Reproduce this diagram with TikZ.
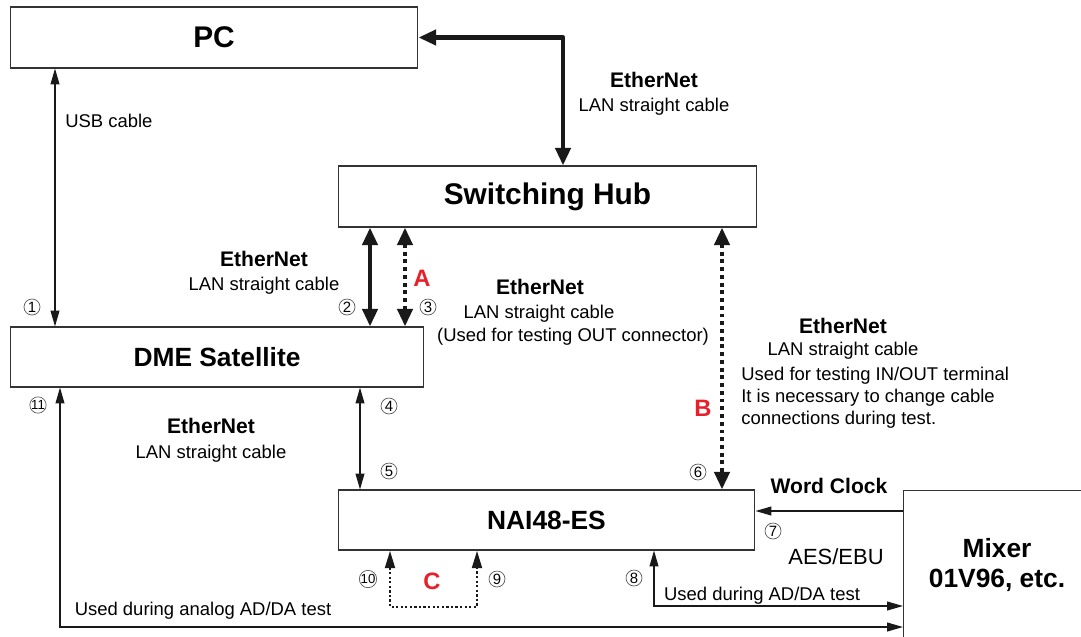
\documentclass[tikz,border=0pt]{standalone}
\usepackage{fontspec}
\setmainfont{Liberation Sans}
\usetikzlibrary{arrows.meta,positioning}
\definecolor{tagred}{RGB}{232,32,42}

\begin{document}
\begin{tikzpicture}[x=0.02cm,y=-0.02cm]
\tikzstyle{every node}=[font=\fontsize{10.5}{12.5}\selectfont, inner sep=0pt]
\tikzstyle{box}=[draw=black!80, line width=0.6pt]
\tikzstyle{bigbox}=[box, font=\fontsize{17}{20}\selectfont\bfseries]
\tikzstyle{midbox}=[box, font=\fontsize{15}{18}\selectfont\bfseries]
\tikzstyle{head}=[anchor=base, font=\fontsize{12}{14}\selectfont\bfseries]
\tikzstyle{txt}=[anchor=base]
\tikzstyle{num}=[circle, draw=black!65, line width=0.4pt, minimum size=0.32cm, font=\fontsize{8.5}{9}\selectfont]
\tikzstyle{tag}=[text=tagred, font=\fontsize{13.5}{15}\selectfont\bfseries]
\tikzstyle{cable}=[draw=black!90, line width=0.75pt, >={Triangle[length=9pt,width=5pt]}]
\tikzstyle{bigcable}=[draw=black!90, line width=2.5pt, line join=round, >={Triangle[length=10pt,width=8.5pt]}]
\tikzstyle{testcable}=[draw=black!90, line width=2.5pt, dash pattern=on 2.2pt off 2.2pt, >={Triangle[length=10pt,width=8.5pt]}]
\tikzstyle{loopcable}=[draw=black!90, line width=1.6pt, dash pattern=on 1.3pt off 1.3pt, >={Triangle[length=10pt,width=5.5pt]}]
\useasboundingbox (0,0) rectangle (1081,636);
\clip (0,0) rectangle (1081,636);

\node[bigbox, minimum width=8.16cm, minimum height=1.22cm] (pc) at (214,37.5) {PC};
\node[bigbox, minimum width=8.38cm, minimum height=1.22cm] (hub) at (547.5,196.5) {Switching Hub};
\node[midbox, minimum width=8.28cm, minimum height=1.2cm] (dme) at (217,357) {DME Satellite};
\node[midbox, minimum width=8.34cm, minimum height=1.2cm] (nai) at (546.5,520) {NAI48-ES};
\node[box, minimum width=5cm, minimum height=4cm, anchor=north west] (mixer) at (903,490) {};
\node[align=center, font=\fontsize{15}{17.6}\selectfont\bfseries] (mixname) at (997,565) {Mixer\\01V96, etc.};

\draw[bigcable, <->] (pc.east) -| ([xshift=0.31cm]hub.north);
\draw[cable, <->] (pc.south -| 55,0) -- (dme.north -| 55,0);
\draw[bigcable, <->] (hub.south -| 370,0) -- (dme.north -| 370,0);
\draw[testcable, <->] (hub.south -| 405,0) -- (dme.north -| 405,0);
\draw[testcable, <->] (hub.south -| 722,0) -- (nai.north -| 722,0);
\draw[cable, <->] (dme.south -| 360,0) -- (nai.north -| 360,0);
\draw[cable, ->] (mixer.north west |- 0,511) -- (nai.east |- 0,511);
\draw[cable, <->] (nai.south -| 654,0) |- (mixer.north west |- 0,606);
\draw[cable, <->] (dme.south -| 60,0) |- (mixer.north west |- 0,627);
\draw[loopcable, <->] (nai.south -| 390,0) |- (477,607) -- (nai.south -| 477,0);

\node[head] (eth1) at (654,87) {EtherNet};
\node[txt] (lan1) at (654,111) {LAN straight cable};
\node[txt, anchor=base west] (usb) at (65,127) {USB cable};
\node[head] (eth2) at (264,266) {EtherNet};
\node[txt] (lan2) at (264,290) {LAN straight cable};
\node[head] (eth3) at (540,294) {EtherNet};
\node[txt] (lan3) at (539,318) {LAN straight cable};
\node[txt] (out3) at (573,341) {(Used for testing OUT connector)};
\node[head] (eth4) at (843,333) {EtherNet};
\node[txt] (lan4) at (843,355) {LAN straight cable};
\node[txt, anchor=base west] (use4a) at (741,380) {Used for testing IN/OUT terminal};
\node[txt, anchor=base west] (use4b) at (741,402) {It is necessary to change cable};
\node[txt, anchor=base west] (use4c) at (741,424) {connections during test.};
\node[head] (eth5) at (211,433) {EtherNet};
\node[txt] (lan5) at (211,458) {LAN straight cable};
\node[head] (wclk) at (829,493) {Word Clock};
\node[txt, font=\fontsize{12.5}{14}\selectfont] (aes) at (836,564) {AES/EBU};
\node[txt] (adda) at (762,600) {Used during AD/DA test};
\node[txt] (analog) at (203,615) {Used during analog AD/DA test};

\node[tag] (tagA) at (422,278) {A};
\node[tag] (tagB) at (703,408) {B};
\node[tag] (tagC) at (432,581) {C};

\node[num] (n1) at (32,307) {1};
\node[num] (n2) at (347,307) {2};
\node[num] (n3) at (428,307) {3};
\node[num] (n4) at (389,406) {4};
\node[num] (n5) at (389,471) {5};
\node[num] (n6) at (698,472) {6};
\node[num] (n7) at (773,531) {7};
\node[num] (n8) at (634,578) {8};
\node[num] (n9) at (497,579) {9};
\node[num, font=\fontsize{7.5}{8}\selectfont] (n10) at (368,579) {10};
\node[num, font=\fontsize{7.5}{8}\selectfont] (n11) at (38,405) {11};
\end{tikzpicture}
\end{document}
